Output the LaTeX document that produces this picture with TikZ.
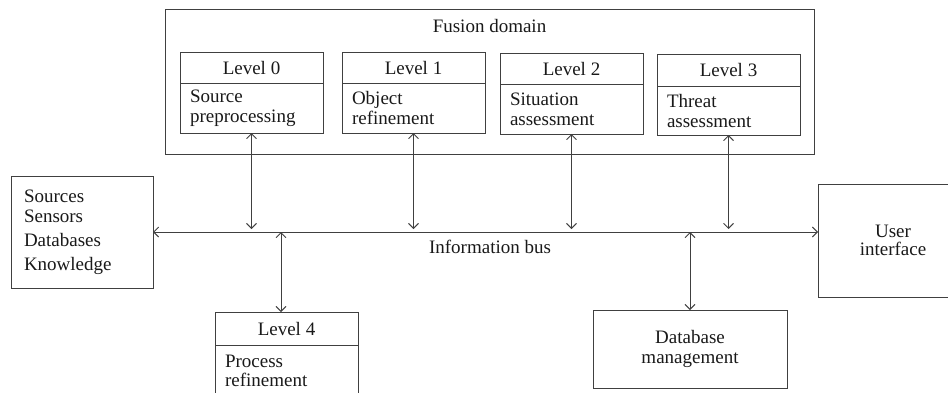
\documentclass[tikz,border=0pt]{standalone}
\usepackage{fontspec}
\setmainfont{Liberation Serif}
\usetikzlibrary{arrows.meta}
\begin{document}
\begin{tikzpicture}[x=1pt,y=-1pt,
  font=\fontsize{19}{20}\selectfont,
  >={Straight Barb[length=5pt,width=10pt]},
  box/.style={draw=black!75, line width=0.9pt, inner sep=0pt, outer sep=0pt, text=black!90},
  hdr/.style={box, minimum width=143pt, minimum height=31pt, anchor=north west},
  lvbody/.style={box, minimum width=143pt, text width=123pt, inner xsep=10pt, align=left, anchor=north west},
  conn/.style={draw=black!75, line width=0.9pt, <->}
]
\useasboundingbox (0,0) rectangle (948,392);
\begin{scope}
\clip (0,0) rectangle (948,392);
% Fusion domain
\node[box, anchor=north west, minimum width=649pt, minimum height=145pt] (fusion) at (165,9) {};
\node[anchor=base, inner sep=0pt, text=black!90] (flabel) at (489.5,32) {Fusion domain};
% Levels 0-3
\node[hdr] (l0h) at (180,52) {Level 0};
\node[lvbody, minimum height=50pt] (l0b) at (l0h.south west) {Source\\preprocessing};
\node[hdr] (l1h) at (342,52) {Level 1};
\node[lvbody, minimum height=50pt] (l1b) at (l1h.south west) {Object\\refinement};
\node[hdr] (l2h) at (500,53) {Level 2};
\node[lvbody, minimum height=50pt] (l2b) at (l2h.south west) {Situation\\assessment};
\node[hdr, minimum height=32pt] (l3h) at (657,54) {Level 3};
\node[lvbody, minimum height=49pt] (l3b) at (l3h.south west) {Threat\\assessment};
% Level 4
\node[hdr, minimum height=33pt] (l4h) at (215,312) {Level 4};
\node[lvbody, minimum height=52pt, font=\fontsize{19}{18.5}\selectfont] (l4b) at (l4h.south west) {Process\\refinement};
% Sources
\node[box, anchor=north west, minimum width=142pt, minimum height=112pt, text width=116pt, inner xsep=13pt, align=left] (src) at (11,176) {Sources\\Sensors\\[4pt]Databases\\[4pt]Knowledge};
% User interface
\node[box, anchor=north west, minimum width=150pt, minimum height=113pt, align=center, font=\fontsize{19}{17.5}\selectfont] (ui) at (818,184) {User\\interface};
% Database management
\node[box, anchor=north west, minimum width=194pt, minimum height=78pt, align=center] (db) at (593,310) {Database\\management};
% Bus
\coordinate (busstop) at (0,229);
\draw[conn] (src.east) -- (src.east -| ui.west);
\node[anchor=base, inner sep=0pt, text=black!90] (buslabel) at (490,253) {Information bus};
% Vertical arrows
\draw[conn] (l0b.south) -- (l0b.south |- busstop);
\draw[conn] (l1b.south) -- (l1b.south |- busstop);
\draw[conn] (l2b.south) -- (l2b.south |- busstop);
\draw[conn] (l3b.south) -- (l3b.south |- busstop);
\draw[conn] ([xshift=-5.5pt]l4h.north |- src.east) -- ([xshift=-5.5pt]l4h.north);
\draw[conn] (db.north |- src.east) -- (db.north);
\end{scope}
\end{tikzpicture}
\end{document}
